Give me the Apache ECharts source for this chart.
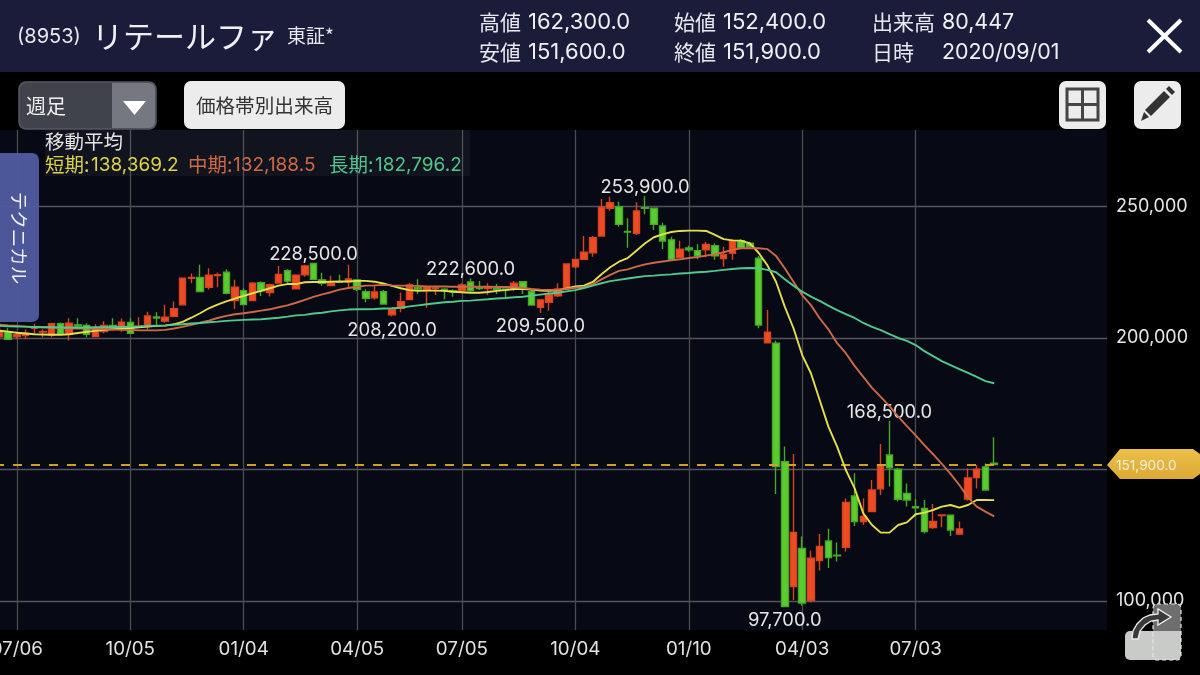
<!DOCTYPE html>
<html><head><meta charset="utf-8">
<style>html,body{margin:0;padding:0;background:#000}#c{width:1200px;height:675px}</style>
<script src="https://cdn.jsdelivr.net/npm/echarts@6/dist/echarts.min.js"></script>
</head><body><div id="c"></div>
<script>
// [open, close, low, high], one row per week
const ohlc = [
[200500,202800,199900,205600],[202400,199500,199300,203700],[200500,201200,199500,202400],[200900,201800,199500,203100],[203700,203900,201600,205400],
[202300,202500,200300,203300],[201200,205400,200300,205600],[205400,201400,201200,205900],[201400,205600,199000,207500],[205000,204600,203700,207500],
[204800,201400,200300,205600],[200500,203700,200500,205200],[202400,204800,201800,206400],[204800,203700,203300,207500],[203700,206000,202400,207400],
[205900,201800,201600,207500],[204300,204500,204100,207900],[204300,208400,203100,210000],[208000,207600,205000,209800],[206400,207900,205800,212600],
[208200,211100,207900,213900],[212600,222700,212500,222800],[222700,223000,220800,224500],[223000,217700,217600,227800],[219300,223900,218400,226500],
[223700,224100,219300,224900],[225000,217000,216600,226100],[214200,219300,211000,222100],[218000,212700,212600,218900],[214200,220800,214000,221300],
[221000,217900,216000,221500],[217300,220300,215800,220600],[220900,224200,220600,227400],[225600,221600,220800,226100],[218700,223900,218400,224200],
[224000,227400,223300,227800],[228300,222300,222100,228500],[222100,220800,219900,224800],[219900,220800,219800,223700],[221400,221200,221200,224000],
[221400,222400,219100,227800],[222100,218500,217900,222200],[217600,215100,213600,218500],[215300,217500,214500,220200],[217600,212900,212700,218200],
[208800,210900,208200,211300],[211300,213800,209800,217200],[214600,220200,214500,221000],[219100,218600,216700,222300],[218000,219500,211500,219900],
[218800,219000,216300,219900],[218500,218000,214700,218900],[218000,217600,215700,218500],[218000,220200,217600,220800],[221300,218000,217600,222600],
[219000,218800,218200,221700],[218800,219000,216300,220800],[218700,218500,216700,220500],[218600,218400,214700,218900],[218900,220800,217900,221700],
[221400,218500,216700,221700],[217600,212500,212300,218200],[211700,214500,209500,214500],[213600,216500,210400,218500],[216000,218600,215500,220800],
[218600,228100,218600,228400],[227100,229900,226500,229900],[229900,232600,229900,238800],[232400,238100,230900,238800],[238800,249700,238800,252800],
[249300,251400,248400,253700],[249900,243200,242300,251800],[240500,240300,234300,245500],[239800,248300,239200,251600],[249500,249300,247000,253900],
[249300,243200,241100,249600],[242600,236900,233800,243800],[237300,229900,229700,238500],[230500,233800,230300,237000],[234200,233500,232800,235100],
[233200,231200,229900,235600],[233500,235600,230700,236500],[235100,231200,229700,236000],[230200,231700,227100,234700],[232200,237000,229700,237500],
[237000,234100,233700,237500],[236000,234700,234100,236600],[230300,204900,203700,231200],[198200,202200,198100,210600],[198000,151100,140700,198900],
[153000,97900,97700,158700],[105500,126100,100400,155900],[120000,99200,98300,124500],[100200,116300,99400,119200],[115400,120700,111600,125500],
[122800,116500,112500,127500],[117400,117200,115000,122200],[120400,137500,118800,139000],[139900,130200,128500,148600],[130200,132100,128900,139000],
[134000,142200,133900,146000],[142700,151700,140300,159700],[155500,150600,143500,168500],[150100,138700,137800,150700],[140900,138400,135900,144700],
[135900,135400,132100,138700],[135200,126400,125700,138400],[127900,130200,127400,136900],[132500,132700,128000,132700],[132600,127000,124700,132700],
[125500,127400,125100,130200],[138800,146800,138100,150400],[146900,150100,142800,151700],[151000,142200,141960,152300],[152400,151900,151600,162300]
];
const maShort = [
202800,202400,202000,201700,201400,201300,201200,201200,201400,201900,
202300,202700,203100,203300,203600,203800,204100,204300,204600,204700,
205200,206100,207700,209400,211300,212700,213900,215000,216000,217000,
217900,218900,219900,220500,220500,221200,221300,221300,221400,221500,
221500,221700,221700,221400,220700,219800,218900,218200,217900,218000,
218000,217900,217600,217400,217200,217200,217500,217900,218200,218600,
218600,218400,218000,217900,218100,218800,219600,219900,221300,224200,
226900,229000,230400,233200,236000,238300,239400,240300,240700,240800,
240800,240700,239200,237600,237100,237000,236000,232400,227700,221400,
211900,203700,193500,186600,176400,166300,158700,149800,142900,133300,
128900,126000,126000,128900,129900,133000,133600,134600,135900,136500,
135500,136500,138400,138400,138369.2];
const maMid = [
205100,204800,204600,204300,204200,204100,204000,203800,203700,203600,
203600,203400,203300,203200,203100,203100,202900,202900,202900,203100,
203600,204200,205000,205800,206600,207600,208400,209000,209400,209900,
210400,210900,211700,212400,213400,214500,215600,216600,217400,218400,
219000,219500,219900,220000,220200,220000,219900,219800,219800,219600,
219600,219600,219500,219500,219500,219500,219500,219400,219400,219300,
219000,218600,218400,218300,218300,218600,219100,219300,220500,222300,
224000,225500,226100,227100,228000,228600,229100,229500,229900,230400,
230800,231300,231900,232600,233500,234100,234100,234100,233800,231200,
226500,221400,216300,212500,207500,203300,198000,194200,189400,185200,
181000,177600,174100,170100,166500,163000,159300,155800,152100,148300,
144100,139400,135900,134000,132188.5];
const maLong = [
204600,204400,204300,204300,204200,204100,204100,204000,204000,204000,
204000,204100,204100,204200,204200,204300,204400,204600,204700,204800,
205000,205200,205500,205700,206000,206200,206500,206700,206900,207000,
207100,207400,207700,208100,208600,208800,209300,209600,210100,210500,
210800,210900,210900,211000,211200,211300,211500,212000,212400,212800,
213200,213600,213800,214100,214200,214500,214700,215000,215200,215500,
215700,216100,216500,216900,217200,217700,218200,219000,219900,220800,
221600,222100,222600,223100,223500,223700,224000,224200,224500,224700,
225000,225200,225500,225900,226200,226500,226600,226500,225900,225000,
222300,219900,217600,215700,214100,212300,210600,209100,207600,205700,
204200,203000,201500,200000,198900,197300,195000,193100,191200,189700,
188200,186700,185200,183600,182796.2];
const weekCount = 128;
const tickIndex = [2,15,28,41,53,66,79,92,105];
const tickLabels = ['07/06','10/05','01/04','04/05','07/05','10/04','01/10','04/03','07/03'];
const yLabelValues = [100000,200000,250000];
const yLineValues = [100000,150000,200000,250000];
const lastPrice = 151900;
// week index, price, shown above (-) or below (+)
const peakIndex = [36,54,74,102,45,62,90];
const peakValue = [228500,222600,253900,168500,208200,209500,97700];
const peakOffset = [-9,-9,-9,-8,14,13,13];

const categories = Array.from({length:weekCount},(_,i)=>{const k=tickIndex.indexOf(i);return k>=0?tickLabels[k]:'w'+i;});
const FONT='Inter,"Noto Sans CJK JP",sans-serif', JP='"Noto Sans CJK JP",sans-serif';
const T=(text,x,y,size,fill,o={})=>({type:'text',z:o.z||60,x,y,rotation:o.rot||0,silent:true,
  style:{text,fill,font:(o.w||'normal')+' '+size+'px '+(o.f||FONT),align:o.a||'left',verticalAlign:'middle',opacity:o.op==null?1:o.op}});
const R=(x,y,width,height,fill,r,o={})=>({type:'rect',z:o.z||55,silent:true,shape:{x,y,width,height,r:r||0},style:{fill,stroke:o.s,lineWidth:o.lw,opacity:o.op==null?1:o.op,lineDash:o.d}});

const gfx=[
 R(1107,72,6,558,'#000',0,{z:50}),
 R(45,130,425,46,'#fff',0,{op:.045,z:20}),
 // tab
 R(0,153,39,169,'#4f5b9f',[0,7,7,0],{op:.96}),
 T('テクニカル',19,238,18.5,'#eef0f8',{f:JP,a:'center',rot:-Math.PI/2}),
 // legend
 T('移動平均',45,142,19.5,'#e4e4e4',{f:JP}),
 T('短期:',45,165,19.5,'#dcd44a',{f:JP}), T('138,369.2',91,165,19,'#dcd44a'),
 T('中期:',188,165,19.5,'#d06a45',{f:JP}), T('132,188.5',233,165,19,'#d06a45'),
 T('長期:',329,165,19.5,'#4fc78d',{f:JP}), T('182,796.2',375,165,19,'#4fc78d'),
 // header
 R(0,0,1200,72,'#1a1c3a'),
 R(0,72,1200,58,'#000'),
 T('(8953)',17,37,20,'#e8e8ee'),
 T('リテールファ',92,36,31,'#f0f0f4',{f:JP}),
 T('東証*',287,36,19,'#e8e8ee',{f:JP}),
 T('高値',479,22,21,'#e8e8ee',{f:JP}), T('162,300.0',528,22.5,22,'#f0f0f4'),
 T('安値',479,52,21,'#e8e8ee',{f:JP}), T('151,600.0',528,52.5,22,'#f0f0f4'),
 T('始値',674,22,21,'#e8e8ee',{f:JP}), T('152,400.0',723,22.5,22,'#f0f0f4'),
 T('終値',674,52,21,'#e8e8ee',{f:JP}), T('151,900.0',723,52.5,22,'#f0f0f4'),
 T('出来高',872,22,21,'#e8e8ee',{f:JP}), T('80,447',942,22.5,21.4,'#f0f0f4'),
 T('日時',872,52,21,'#e8e8ee',{f:JP}), T('2020/09/01',942,52.5,21.4,'#f0f0f4'),
 {type:'line',z:60,silent:true,shape:{x1:1148,y1:20,x2:1181,y2:52},style:{stroke:'#fff',lineWidth:4}},
 {type:'line',z:60,silent:true,shape:{x1:1181,y1:20,x2:1148,y2:52},style:{stroke:'#fff',lineWidth:4}},
 // dropdown
 R(19,82,137,47,'#41434c',7,{s:'#555963',lw:1.5,z:56}),
 {type:'rect',z:57,silent:true,shape:{x:112,y:83,width:43,height:45,r:[0,6,6,0]},style:{fill:'#757880'}},
 T('週足',26,106,20,'#f0f0f0',{f:JP,z:58}),
 {type:'polygon',z:58,silent:true,shape:{points:[[123,101],[146,101],[134.5,115]]},style:{fill:'#fff'}},
 // button
 R(184,81,161,48,'#ececec',7,{z:56}),
 T('価格帯別出来高',264.5,106,19.6,'#333',{f:JP,a:'center',z:58}),
 // grid button
 R(1059,81,47,48,'#ececec',7,{z:56}),
 R(1067,89,31,31,'none',0,{s:'#444',lw:3,z:58}),
 {type:'line',z:58,silent:true,shape:{x1:1082.5,y1:89,x2:1082.5,y2:120},style:{stroke:'#444',lineWidth:3}},
 {type:'line',z:58,silent:true,shape:{x1:1067,y1:104.5,x2:1098,y2:104.5},style:{stroke:'#444',lineWidth:3}},
 // pencil button
 R(1134,81,47,48,'#ececec',7,{z:56}),
 {type:'polygon',z:58,silent:true,shape:{points:[[1145,110],[1164,91],[1170,97],[1151,116]]},style:{fill:'#333'}},
 {type:'polygon',z:58,silent:true,shape:{points:[[1166,89],[1169,86],[1175,92],[1172,95]]},style:{fill:'#333'}},
 {type:'polygon',z:58,silent:true,shape:{points:[[1144,112],[1149,117],[1141,121]]},style:{fill:'#333'}},
 // price tag
 {type:'polygon',z:58,silent:true,shape:{points:[[1107,465],[1120,449],[1193,449],[1200,454],[1200,474],[1193,479],[1120,479]]},
  style:{fill:{type:'linear',x:0,y:0,x2:0,y2:1,colorStops:[{offset:0,color:'#ecc04a'},{offset:1,color:'#dca934'}]}}},
 T('151,900.0',1116,465.5,13.6,'#f6f0dc',{z:59}),
 // bottom-right icon
 R(1125,631,56,29,'#c9cbc9',[5,0,5,5],{z:56}),
 R(1153,604,28,27,'#6e6e6e',[4,4,0,0],{z:56}),
 R(1153,604,28,56,'none',4,{s:'#e6e6e6',lw:1.2,d:[4,3],z:57}),
 {type:'polygon',z:58,silent:true,shape:{points:[[1132,639],[1133,631],[1137,624],[1143,618],[1150,615],[1158,614],[1158,609],[1171,617],[1158,625],[1158,620],[1151,621],[1145,625],[1140,631],[1138,639]]},style:{fill:'#3a3a3a',stroke:'#eee',lineWidth:1.3}}
];

const chart=echarts.init(document.getElementById('c'),null,{renderer:'canvas'});
const lineS=(name,data,color)=>({name,type:'line',data,symbol:'none',z:5,silent:true,lineStyle:{color,width:1.9},animation:false});
chart.setOption({
 animation:false,backgroundColor:'#000',
 grid:{left:-5,right:88,top:130,bottom:45,show:true,backgroundColor:'#070914',borderWidth:0,containLabel:false,outerBoundsMode:'none'},
 xAxis:{type:'category',data:categories,boundaryGap:true,
  axisLine:{show:false},axisTick:{show:false},
  axisLabel:{show:true,hideOverlap:false,interval:i=>tickIndex.includes(i),color:'#e2e2e2',fontFamily:'Inter',fontSize:18.8,margin:10},
  splitLine:{show:true,interval:i=>tickIndex.includes(i),alignWithLabel:true,lineStyle:{color:'#4b4b52',width:1.3}}},
 yAxis:{type:'value',position:'right',min:88974,max:279074,
  axisLine:{show:false},axisTick:{show:false,customValues:yLineValues},
  axisLabel:{show:true,inside:false,customValues:yLabelValues,margin:4,padding:[8,0,0,0],color:'#e6e6e6',fontFamily:'Inter',fontSize:18,formatter:v=>v.toLocaleString('en-US')},
  splitLine:{show:true,lineStyle:{color:'#55555b',width:1.3}}},
 series:[
  {type:'candlestick',data:ohlc,barWidth:7,z:3,silent:true,
   itemStyle:{color:'#ee4a24',color0:'#5bcb30',borderColor:'#d84421',borderColor0:'#48a82a',borderWidth:1.4},
   markLine:{silent:true,symbol:'none',animation:false,label:{show:false},
     lineStyle:{color:'#cfa126',type:[9,9],width:2},data:[{yAxis:lastPrice}]},
   markPoint:{silent:true,animation:false,symbol:'circle',symbolSize:1,itemStyle:{opacity:0},
     data:peakIndex.map((j,i)=>({coord:[j,peakValue[i]],
       label:{show:true,position:'inside',offset:[0,peakOffset[i]],formatter:peakValue[i].toLocaleString('en-US',{minimumFractionDigits:1}),
       color:'#e6e6e6',fontFamily:'Inter',fontSize:18.4,opacity:1}}))}},
  lineS('短期',maShort,'#e6df4d'),
  lineS('中期',maMid,'#cc6a48'),
  lineS('長期',maLong,'#4fc98c')
 ],
 graphic:{elements:gfx}
});
</script></body></html>
